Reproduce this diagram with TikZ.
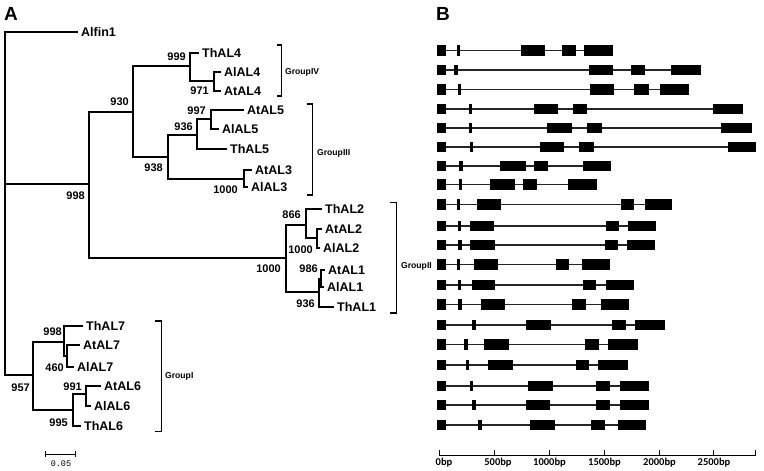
\documentclass[tikz,border=0pt]{standalone}
\usepackage{fontspec}
\setmainfont{Liberation Sans}
\newfontfamily\carl{Carlito}
\newfontfamily\lmono{Liberation Mono}
\tikzset{
  br/.style={line width=1.4pt, line cap=rect},
  leaf/.style={anchor=west, inner xsep=4pt, inner ysep=0pt, font=\fontsize{12.5}{13}\selectfont\bfseries},
  boot/.style={anchor=east, inner sep=0pt, font=\fontsize{11}{12}\selectfont\bfseries},
  grp/.style={anchor=west, inner sep=0pt, font=\fontsize{8.6}{9}\selectfont\bfseries},
  brk/.style={line width=1.4pt},
  panel/.style={anchor=west, inner sep=0pt, font=\fontsize{19}{19}\selectfont\bfseries},
  intron/.style={line width=1.3pt, color=black!85},
  exon/.style={fill=black},
  axlab/.style={inner sep=0pt, font=\carl\fontsize{10.5}{11}\selectfont\bfseries},
}
\newcommand\generow[3]{%
  \draw[intron] (436.5,#1) -- (#2,#1);
  \foreach \a/\b in {#3} {\fill[exon] (\a,#1-5.3) rectangle (\b,#1+5.3);}
}
\begin{document}
\begin{tikzpicture}[x=1pt,y=-1pt]
\useasboundingbox (0,0) rectangle (764,471);
\fill[white] (0,0) rectangle (764,471);
% panel labels
\node[panel] (pA) at (4,13.5) {A};
\node[panel] (pB) at (436,13.5) {B};
% ---------------- tree ----------------
\coordinate (r0) at (5,184);
\coordinate (n998) at (89,184);
\coordinate (n930) at (133,112);
\coordinate (n999) at (190,66);
\coordinate (n971) at (214,81);
\coordinate (n938) at (168,157);
\coordinate (n936a) at (197,135);
\coordinate (n997) at (211,119);
\coordinate (n1000a) at (244,179);
\coordinate (nII) at (286,258);
\coordinate (n866) at (306,225);
\coordinate (n1000b) at (317,238);
\coordinate (n936b) at (319,292);
\coordinate (n986) at (320.8,279);
\coordinate (n957) at (33,375);
\coordinate (n998b) at (64,342);
\coordinate (n460) at (67,356);
\coordinate (n995) at (73,410);
\coordinate (n991) at (86,394);
% leaves
\node[leaf] (Alfin1) at (77,32) {Alfin1};
\node[leaf] (ThAL4) at (198,53) {ThAL4};
\node[leaf] (AlAL4) at (220,72) {AlAL4};
\node[leaf] (AtAL4) at (220,91) {AtAL4};
\node[leaf] (AtAL5) at (243,110) {AtAL5};
\node[leaf] (AlAL5) at (218,129) {AlAL5};
\node[leaf] (ThAL5) at (226,149) {ThAL5};
\node[leaf] (AtAL3) at (251,170) {AtAL3};
\node[leaf] (AlAL3) at (247,187) {AlAL3};
\node[leaf] (ThAL2) at (321,209) {ThAL2};
\node[leaf] (AtAL2) at (321,229) {AtAL2};
\node[leaf] (AlAL2) at (319,248) {AlAL2};
\node[leaf] (AtAL1) at (324,270) {AtAL1};
\node[leaf] (AlAL1) at (323,287) {AlAL1};
\node[leaf] (ThAL1) at (333,307) {ThAL1};
\node[leaf] (ThAL7) at (82,326) {ThAL7};
\node[leaf] (AtAL7) at (79,345) {AtAL7};
\node[leaf] (AlAL7) at (73,367) {AlAL7};
\node[leaf] (AtAL6) at (100,386) {AtAL6};
\node[leaf] (AlAL6) at (90,406) {AlAL6};
\node[leaf] (ThAL6) at (80,426) {ThAL6};
% branches
\draw[br] (r0) |- (Alfin1.west);
\draw[br] (r0) |- (n998);
\draw[br] (r0) |- (n957);
\draw[br] (n998) |- (n930);
\draw[br] (n998) |- (nII);
\draw[br] (n930) |- (n999);
\draw[br] (n930) |- (n938);
\draw[br] (n999) |- (ThAL4.west);
\draw[br] (n999) |- (n971);
\draw[br] (n971) |- (AlAL4.west);
\draw[br] (n971) |- (AtAL4.west);
\draw[br] (n938) |- (n936a);
\draw[br] (n938) |- (n1000a);
\draw[br] (n936a) |- (n997);
\draw[br] (n936a) |- (ThAL5.west);
\draw[br] (n997) |- (AtAL5.west);
\draw[br] (n997) |- (AlAL5.west);
\draw[br] (n1000a) |- (AtAL3.west);
\draw[br] (n1000a) |- (AlAL3.west);
\draw[br] (nII) |- (n866);
\draw[br] (nII) |- (n936b);
\draw[br] (n866) |- (ThAL2.west);
\draw[br] (n866) |- (n1000b);
\draw[br] (n1000b) |- (AtAL2.west);
\draw[br] (n1000b) |- (AlAL2.west);
\draw[br] (n936b) |- (n986);
\draw[br] (n936b) |- (ThAL1.west);
\draw[br] (n986) |- (AtAL1.west);
\draw[br] (n986) |- (AlAL1.west);
\draw[br] (n957) |- (n998b);
\draw[br] (n957) |- (n995);
\draw[br] (n998b) |- (ThAL7.west);
\draw[br] (n998b) |- (n460);
\draw[br] (n460) |- (AtAL7.west);
\draw[br] (n460) |- (AlAL7.west);
\draw[br] (n995) |- (n991);
\draw[br] (n995) |- (ThAL6.west);
\draw[br] (n991) |- (AtAL6.west);
\draw[br] (n991) |- (AlAL6.west);
% bootstrap values
\node[boot] (b999) at (186,57) {999};
\node[boot] (b971) at (209,91) {971};
\node[boot] (b930) at (129,102) {930};
\node[boot] (b997) at (206,111) {997};
\node[boot] (b936a) at (193,127) {936};
\node[boot] (b938) at (163,168) {938};
\node[boot] (b1000a) at (238,190) {1000};
\node[boot] (b998) at (85,196) {998};
\node[boot] (b866) at (301,215) {866};
\node[boot] (b1000b) at (313,250) {1000};
\node[boot] (bII) at (281,269) {1000};
\node[boot] (b986) at (318,269) {986};
\node[boot] (b936b) at (315,304) {936};
\node[boot] (b998b) at (62,332) {998};
\node[boot] (b460) at (64,368) {460};
\node[boot] (b957) at (30,388) {957};
\node[boot] (b991) at (82,387) {991};
\node[boot] (b995) at (68,423) {995};
% group brackets
\draw[brk] (276.5,45) -- (281.7,45) -- (281.7,96) -- (276.5,96);
\node[grp] (gIV) at (285,72) {GroupIV};
\draw[brk] (306.5,104) -- (312.7,104) -- (312.7,195) -- (306.5,195);
\node[grp] (gIII) at (317,153) {GroupIII};
\draw[brk] (390,202.5) -- (396.5,202.5) -- (396.5,313) -- (390,313);
\node[grp] (gII) at (401,266) {GroupII};
\draw[brk] (154.5,321) -- (161.7,321) -- (161.7,431.5) -- (154.5,431.5);
\node[grp] (gI) at (165,376) {GroupI};
% scale bar
\draw[line width=1pt] (45,451) -- (45,457) (45,454) -- (75,454) (75,451) -- (75,457);
\node[inner sep=0pt, font=\lmono\fontsize{8.5}{9}\selectfont] (sb) at (61,463.5) {0.05};
% ---------------- gene structures ----------------
\generow{50.5}{613.3}{436.5/446.3, 456.7/459.7, 521/545.3, 562/575.7, 584.3/613.3}
\generow{70}{701}{436.5/446.3, 454.3/458, 589.3/613.3, 631/645.3, 671.3/701}
\generow{89.5}{689.3}{436.5/446.3, 457.7/460.7, 590/614, 634.3/649, 660/689.3}
\generow{109}{742.7}{436.5/446.3, 468.7/471.7, 533.7/557.7, 573/587.3, 713/742.7}
\generow{128}{752}{436.5/446.3, 469.3/472.3, 547/572, 587/601.7, 721.3/752}
\generow{147}{756}{436.5/446.3, 470/473.3, 540/564.3, 579.3/594.3, 727.7/756}
\generow{166}{611}{436.5/446.3, 459.3/462.7, 500.3/525.7, 534.3/548, 582.7/611}
\generow{184.5}{596.7}{436.5/446.3, 458.7/462, 489.7/515, 523/536.7, 568/596.7}
\generow{204.5}{671.7}{436.5/446.3, 457.3/460.3, 477.3/501, 621.3/634, 644.7/671.7}
\generow{226}{656.3}{436.5/446.3, 458.3/461.3, 470/494, 606/619.3, 627.7/656.3}
\generow{245}{654.7}{436.5/446.3, 458.3/461.7, 470/494.7, 605/618, 626.7/654.7}
\generow{264.5}{609.7}{436.5/446.3, 456.7/460, 473.7/498, 556.3/569.3, 582.3/609.7}
\generow{285}{633.7}{436.5/446.3, 457.7/460.7, 471.7/495.3, 583/596, 606.3/633.7}
\generow{304.5}{629}{436.5/446.3, 458.3/462, 481.3/505, 572.3/585.7, 601.3/629}
\generow{325}{664.7}{436.5/446.3, 472.3/476, 525.7/551, 612/625.7, 635/664.7}
\generow{344.5}{638}{436.5/446.3, 464.3/468.3, 484.3/509.3, 585/599, 608.3/638}
\generow{365}{628}{436.5/446.3, 465.7/469.3, 488.3/512.7, 575.7/589, 597.7/628}
\generow{386}{649.3}{436.5/446.3, 470/473.3, 528.3/553.3, 596.3/610.3, 620.3/649.3}
\generow{405}{649.3}{436.5/446.3, 472.3/475.7, 525.7/550, 595.7/609.7, 619.7/649.3}
\generow{425}{646.3}{436.5/446.3, 477.7/481.7, 530/554.7, 591.3/605.3, 617.7/646.3}
% axis
\draw[line width=1pt] (439.3,455.7) -- (755.7,455.7);
\foreach \t in {439.3,494,549,604,659,713.3,755.7} {\draw[line width=1pt] (\t,450) -- (\t,455.7);}
\node[axlab] (l0) at (444,462.7) {0bp};
\node[axlab] (l500) at (498,462.7) {500bp};
\node[axlab] (l1000) at (549.5,462.7) {1000bp};
\node[axlab] (l1500) at (604.5,462.7) {1500bp};
\node[axlab] (l2000) at (659.5,462.7) {2000bp};
\node[axlab] (l2500) at (714,462.7) {2500bp};
\end{tikzpicture}
\end{document}
